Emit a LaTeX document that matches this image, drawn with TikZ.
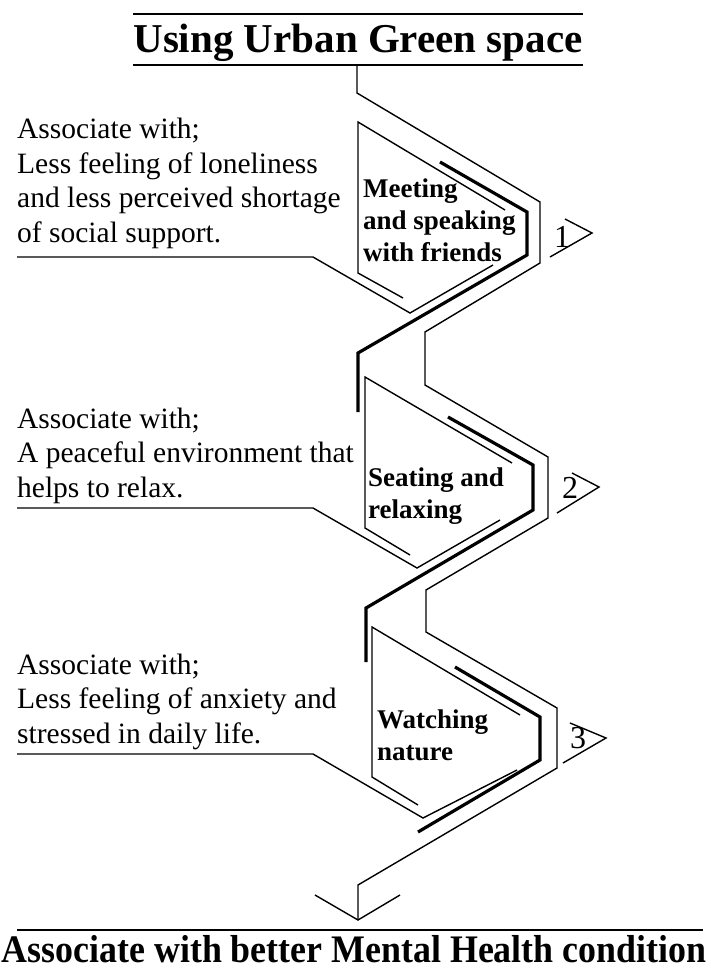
\documentclass[tikz,border=0pt]{standalone}
\usepackage{fontspec}
\setmainfont{Liberation Serif}
\usepackage{tikz}
\usetikzlibrary{positioning}

\begin{document}
\begin{tikzpicture}[x=1pt,y=-1pt,line join=miter]
  \tikzstyle{thinline}=[draw=black,line width=1.4pt]
  \tikzstyle{boldline}=[draw=black,line width=3.2pt]
  \tikzstyle{effect}=[anchor=base west,align=left,inner sep=0pt,
                      font=\fontsize{29.5}{34.5}\selectfont]
  \tikzstyle{activity}=[anchor=base west,align=left,inner sep=0pt,
                        font=\fontsize{27}{32}\selectfont\bfseries]
  \tikzstyle{stepno}=[anchor=base,inner sep=0pt,font=\fontsize{32}{32}\selectfont]
  \tikzstyle{heading}=[anchor=base,inner sep=0pt,font=\fontsize{41}{41}\selectfont\bfseries]

  \useasboundingbox (0,0) rectangle (710,969);

  % title and result
  \node[heading] (title) at (358,52) {Using Urban Green space};
  \node[heading] (result) at (354,962)
       {\scalebox{0.92}[1]{\fontsize{39}{39}\selectfont Associate with better Mental Health condition}};
  \draw[thinline] (133,14) -- (583,14) (133,65) -- (583,65);
  \draw[thinline] (17,930) -- (703,930);

  % the path through the park
  \draw[thinline] (357,65) -- (357,93) -- (540,202) -- (540,263) -- (425,332) -- (425,385)
                  -- (548,457) -- (548,518) -- (426,590) -- (426,632) -- (557,708)
                  -- (557,768) -- (358,885) -- (358,920);
  \draw[thinline] (315,895) -- (358,920) -- (400,895);

  % step 1 (base = last line)
  \node[effect] (eff1) at (17,242) {Associate with;\\Less feeling of loneliness\\
                                    and less perceived shortage\\of social support.};
  \node[activity] (act1) at (363,261) {Meeting\\and speaking\\with friends};
  \node[stepno] (no1) at (562,247) {1};
  \draw[thinline] (505,210) -- (358,122) -- (358,273) -- (403,298);
  \draw[boldline] (440,162) -- (527,212) -- (527,255) -- (358,353) -- (358,412);
  \draw[thinline] (17,257) -- (313,257) -- (410,313) -- (493,265);
  \draw[thinline] (565,219) -- (592,233) -- (550,257);

  % step 2
  \node[effect] (eff2) at (17,497) {Associate with;\\A peaceful environment that\\helps to relax.};
  \node[activity] (act2) at (368,518) {Seating and\\relaxing};
  \node[stepno] (no2) at (570,498) {2};
  \draw[thinline] (512,463) -- (365,377) -- (365,528) -- (410,555);
  \draw[boldline] (448,417) -- (533,465) -- (533,510) -- (366,608) -- (366,662);
  \draw[thinline] (17,508) -- (313,508) -- (417,568) -- (500,520);
  \draw[thinline] (572,473) -- (599,487) -- (557,513);

  % step 3
  \node[effect] (eff3) at (17,743) {Associate with;\\Less feeling of anxiety and\\stressed in daily life.};
  \node[activity] (act3) at (377,760) {Watching\\nature};
  \node[stepno] (no3) at (578,748) {3};
  \draw[thinline] (520,715) -- (372,627) -- (372,777) -- (418,805);
  \draw[boldline] (455,667) -- (540,717) -- (540,760) -- (418,832);
  \draw[thinline] (17,754) -- (313,754) -- (423,818) -- (517,770);
  \draw[thinline] (570,723) -- (606,738) -- (563,763);
\end{tikzpicture}
\end{document}
